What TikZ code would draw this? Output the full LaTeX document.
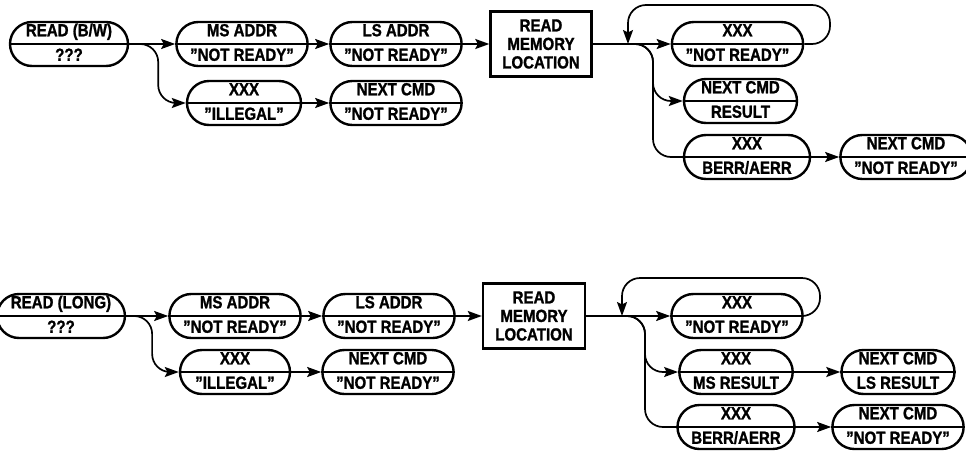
\documentclass[tikz,border=0pt]{standalone}
\usepackage{fontspec}
\setmainfont{Liberation Sans}[FakeStretch=0.86,BoldFeatures={FakeBold=1.2}]
\usepackage{tikz}
\usetikzlibrary{arrows.meta,shapes.misc}
\newcommand{\pl}[2]{\vphantom{(}#1\\\vphantom{(}#2}
\tikzset{
  pillnode/.style={draw,rounded rectangle,line width=2.4pt,minimum height=44pt,inner sep=0pt,align=center,font=\bfseries\fontsize{17.5}{24.5}\selectfont},
  memnode/.style={draw,rectangle,line width=2.4pt,minimum width=101pt,minimum height=65pt,inner sep=0pt,align=center,font=\bfseries\fontsize{17.5}{18.5}\selectfont},
  dividerline/.style={line width=1.3pt},
  arrow/.style={-{Stealth[length=14pt,width=10pt,inset=2.5pt]},line width=1.7pt},
  branchline/.style={line width=1.7pt,rounded corners=18pt}
}
\begin{document}
\begin{tikzpicture}[x=1pt,y=-1pt]
\useasboundingbox (0,0) rectangle (966,450);

% read byte/word
\node[pillnode,minimum width=118pt] (readbw) at (69,44) {\pl{READ (B/W)}{???}};
\node[pillnode,minimum width=111pt] (msaddr1) at (242,44) {\pl{MS ADDR}{"NOT READY"}};
\node[pillnode,minimum width=112pt] (lsaddr1) at (396,44) {\pl{LS ADDR}{"NOT READY"}};
\node[pillnode,minimum width=114pt] (illegal1) at (244,103) {\pl{XXX}{"ILLEGAL"}};
\node[pillnode,minimum width=113pt] (nextcmd1) at (396,103) {\pl{NEXT CMD}{"NOT READY"}};
\node[memnode] (rmem1) at (541,44) {READ\\MEMORY\\LOCATION};
\node[pillnode,minimum width=115pt] (xnr1) at (737.5,44) {\pl{XXX}{"NOT READY"}};
\node[pillnode,minimum width=113pt] (result1) at (740.5,101) {\pl{NEXT CMD}{RESULT}};
\node[pillnode,minimum width=126pt] (berr1) at (747,157) {\pl{XXX}{BERR/AERR}};
\node[pillnode,minimum width=112pt] (nr1) at (906,157) {\pl{NEXT CMD}{"NOT READY"}};
\coordinate (j1) at (628,44);
\coordinate (loop1) at (830,5);

% read long
\node[pillnode,minimum width=120pt] (readlong) at (61,316) {\pl{READ (LONG)}{???}};
\node[pillnode,minimum width=110pt] (msaddr2) at (235,316) {\pl{MS ADDR}{"NOT READY"}};
\node[pillnode,minimum width=112pt] (lsaddr2) at (389,316) {\pl{LS ADDR}{"NOT READY"}};
\node[pillnode,minimum width=110pt] (illegal2) at (235,372) {\pl{XXX}{"ILLEGAL"}};
\node[pillnode,minimum width=111pt] (nextcmd2) at (388,372) {\pl{NEXT CMD}{"NOT READY"}};
\node[memnode,minimum width=102pt] (rmem2) at (534,316) {READ\\MEMORY\\LOCATION};
\node[pillnode,minimum width=111pt] (xnr2) at (737,316) {\pl{XXX}{"NOT READY"}};
\node[pillnode,minimum width=113pt] (msres) at (736,372) {\pl{XXX}{MS RESULT}};
\node[pillnode,minimum width=113pt] (lsres) at (898,372) {\pl{NEXT CMD}{LS RESULT}};
\node[pillnode,minimum width=113pt] (berr2) at (736,427) {\pl{XXX}{BERR/AERR}};
\node[pillnode,minimum width=113pt] (nr2) at (898,427) {\pl{NEXT CMD}{"NOT READY"}};
\coordinate (j2) at (622,316);
\coordinate (loop2) at (820,278);

\foreach \n in {readbw,msaddr1,lsaddr1,illegal1,nextcmd1,xnr1,result1,berr1,nr1,
  readlong,msaddr2,lsaddr2,illegal2,nextcmd2,xnr2,msres,lsres,berr2,nr2}
  \draw[dividerline] (\n.west) -- (\n.east);

% connectors, top
\draw[arrow] (readbw.east) -- (msaddr1.west);
\draw[arrow] (msaddr1.east) -- (lsaddr1.west);
\draw[arrow] (lsaddr1.east) -- (rmem1.west);
\draw[arrow] (illegal1.east) -- (nextcmd1.west);
\draw[arrow,branchline] (readbw.east) -- ([xshift=29pt]readbw.east) |- (illegal1.west);
\draw[arrow] (rmem1.east) -- (xnr1.west);
\draw[arrow,branchline] (xnr1.east) -| (loop1) -| (j1);
\draw[arrow,branchline] (j1) -- ([xshift=25pt]j1) |- (result1.west);
\draw[branchline] (j1) -- ([xshift=25pt]j1) |- (berr1.west);
\draw[arrow] (berr1.east) -- (nr1.west);

% connectors, bottom
\draw[arrow] (readlong.east) -- (msaddr2.west);
\draw[arrow] (msaddr2.east) -- (lsaddr2.west);
\draw[arrow] (lsaddr2.east) -- (rmem2.west);
\draw[arrow] (illegal2.east) -- (nextcmd2.west);
\draw[arrow,branchline] (readlong.east) -- ([xshift=26pt]readlong.east) |- (illegal2.west);
\draw[arrow] (rmem2.east) -- (xnr2.west);
\draw[arrow,branchline] (xnr2.east) -| (loop2) -| (j2);
\draw[arrow,branchline] (j2) -- ([xshift=23pt]j2) |- (msres.west);
\draw[branchline] (j2) -- ([xshift=23pt]j2) |- (berr2.west);
\draw[arrow] (msres.east) -- (lsres.west);
\draw[arrow] (berr2.east) -- (nr2.west);
\end{tikzpicture}
\end{document}
